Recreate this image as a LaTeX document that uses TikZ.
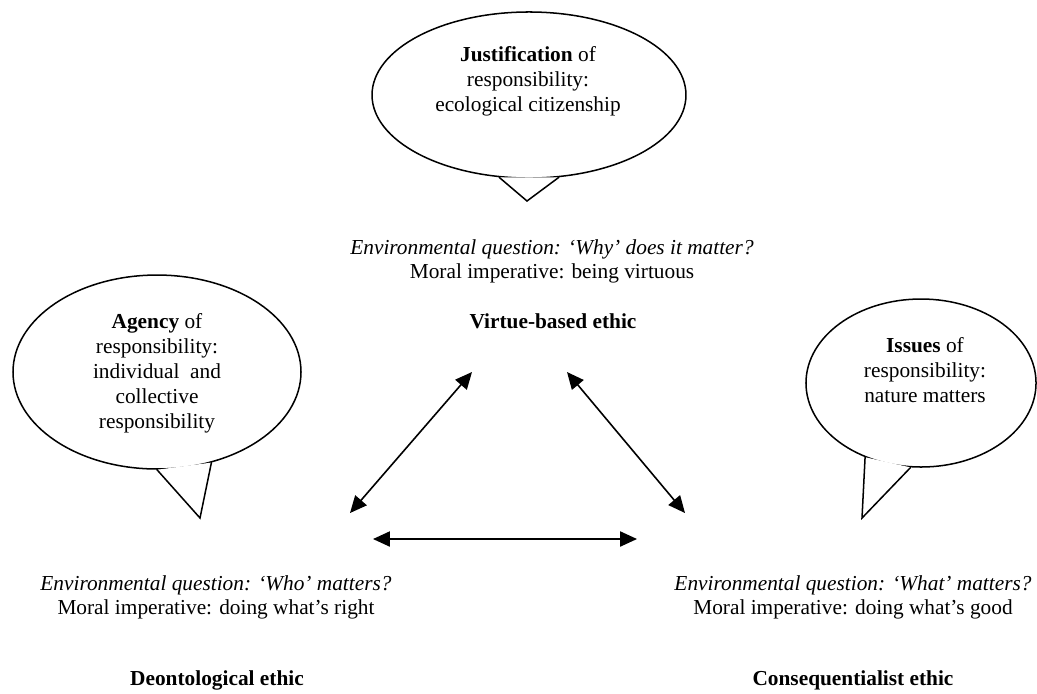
\documentclass[tikz,border=0pt]{standalone}
\usepackage{fontspec}
\setmainfont{Liberation Serif}
\usetikzlibrary{shapes.geometric,arrows.meta,positioning,calc}

\begin{document}
\begin{tikzpicture}[
    x=0.5625pt, y=-0.5625pt,
    bubble/.style={ellipse, draw, line width=0.85pt, inner sep=0pt},
    tail/.style={line width=0.85pt, line join=miter, line cap=round, fill=white},
    bubtext/.style={align=center, font=\fontsize{12}{14}\selectfont},
    question/.style={align=center, font=\fontsize{12}{13.6}\selectfont},
    ethic/.style={font=\fontsize{12}{13.6}\selectfont\bfseries},
    arrow/.style={{Triangle[length=9.5pt,width=8.5pt]}-{Triangle[length=9.5pt,width=8.5pt]}, line width=0.9pt}
]
    \useasboundingbox (0,0) rectangle (1037,693);

    % Speech bubbles
    \node[bubble, minimum width=176.6pt, minimum height=93.4pt] (justbub) at (529,95) {};
    \node[bubble, minimum width=162pt, minimum height=109.1pt] (agencybub) at (157,372) {};
    \node[bubble, minimum width=129.4pt, minimum height=94.5pt] (issuesbub) at (921,383) {};

    % Bubble tails
    \coordinate (justtip) at (527,201);
    \coordinate (agencytip) at (200,518);
    \coordinate (issuestip) at (862,518);
    \filldraw[tail] (justbub.250) -- (justtip) -- (justbub.290);
    \filldraw[tail] (agencybub.270) -- (agencytip) -- (agencybub.301);
    \filldraw[tail] (issuesbub.233) -- (issuestip) -- (issuesbub.263);

    % Bubble texts
    \node[bubtext] (justtxt) at (528,81) {\textbf{Justification} of\\responsibility:\\ecological citizenship};
    \node[bubtext] (agencytxt) at (157,373) {\textbf{Agency} of\\responsibility:\\individual~~and\\collective\\responsibility};
    \node[bubtext] (issuestxt) at (925,370) {\textbf{Issues} of\\responsibility:\\nature matters};

    % Ethics (top, left, right)
    \node[question] (virtueq) at (552,261) {\textit{Environmental question: ‘Why’ does it matter?}\\Moral imperative: being virtuous};
    \node[ethic] (virtue) at (553,321) {Virtue-based ethic};
    \node[question] (deonq) at (216,597) {\textit{Environmental question: ‘Who’ matters?}\\Moral imperative: doing what’s right};
    \node[ethic] (deon) at (217,680) {Deontological ethic};
    \node[question] (conseqq) at (853,597) {\textit{Environmental question: ‘What’ matters?}\\Moral imperative: doing what’s good};
    \node[ethic] (conseq) at (853,680) {Consequentialist ethic};

    % Arrow ends
    \coordinate (virtueL) at (472,372);
    \coordinate (virtueR) at (567,372);
    \coordinate (deonT) at (350,513);
    \coordinate (deonR) at (373,539);
    \coordinate (conseqT) at (685,513);
    \coordinate (conseqL) at (637,539);

    % Two-way arrows
    \draw[arrow] (deonT) -- (virtueL);
    \draw[arrow] (virtueR) -- (conseqT);
    \draw[arrow] (deonR) -- (conseqL);
\end{tikzpicture}
\end{document}
